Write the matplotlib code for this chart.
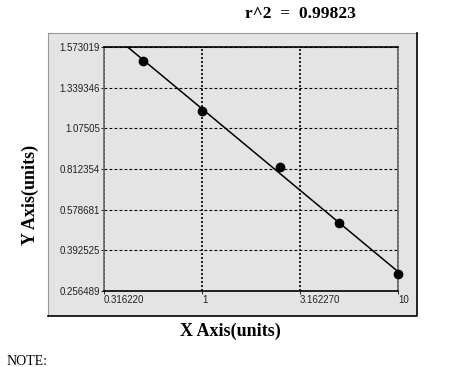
import numpy as np
import matplotlib
matplotlib.use("Agg")
import matplotlib.pyplot as plt
from matplotlib.patches import Rectangle
from matplotlib.lines import Line2D

# standard curve points
conc = [0.5, 1, 2.5, 5, 10]
od = [1.4924, 1.1895, 0.8234, 0.5163, 0.3134]

# y axis tick values (evenly spaced on the plot)
ytick_vals = [0.256489, 0.392525, 0.578681, 0.812354, 1.07505, 1.339346, 1.573019]
ytick_labels = ["0.256489", "0.392525", "0.578681", "0.812354", "1.07505", "1.339346", "1.573019"]
xtick_vals = [0.316228, 1, 3.16228, 10]
xtick_labels = ["0.316220", "1", "3.162270", "10"]
r2_text = "r^2  =  0.99823"

pos = np.arange(len(ytick_vals), dtype=float)


def interp_ext(v, xp, fp):
    v = np.asarray(v, dtype=float)
    out = np.interp(v, xp, fp)
    out = np.where(v < xp[0], fp[0] + (v - xp[0]) * (fp[1] - fp[0]) / (xp[1] - xp[0]), out)
    out = np.where(v > xp[-1], fp[-1] + (v - xp[-1]) * (fp[-1] - fp[-2]) / (xp[-1] - xp[-2]), out)
    return out


def fwd(v):
    return interp_ext(v, ytick_vals, pos)


def inv(p):
    return interp_ext(p, pos, ytick_vals)


W, H = 471, 367
fig = plt.figure(figsize=(W / 100, H / 100), dpi=100)

panel_col = "#e4e4e4"
# outer gray panel
l, r, t, b = 48 / W, 417 / W, 1 - 33 / H, 1 - 316 / H
fig.add_artist(Rectangle((l, b), r - l, t - b, transform=fig.transFigure,
                         facecolor=panel_col, edgecolor="none", zorder=0))
fig.add_artist(Line2D([l, l, r], [b, t, t], transform=fig.transFigure, color="#9a9a9a", lw=0.8))
fig.add_artist(Line2D([l, r, r], [b, b, t], transform=fig.transFigure, color="black", lw=1.2))

ax = fig.add_axes([104 / W, 1 - 291 / H, 294 / W, 244 / H])
ax.set_facecolor(panel_col)
ax.set_xscale("log")
ax.set_yscale("function", functions=(fwd, inv))
ax.set_xlim(10 ** -0.5, 10)
ax.set_ylim(ytick_vals[0], ytick_vals[-1])

ax.set_yticks(ytick_vals)
ax.set_yticklabels(ytick_labels)
ax.set_xticks(xtick_vals)
ax.set_xticklabels(xtick_labels)
ax.minorticks_off()
ax.tick_params(axis="both", length=2, width=0.6, pad=1, labelsize=7, labelcolor="#222222")
for lab in ax.get_xticklabels():
    lab.set_horizontalalignment("left")
    lab.set_fontfamily("Liberation Sans")
for lab in ax.get_yticklabels():
    lab.set_fontfamily("Liberation Sans")

ax.grid(axis="y", color="black", linestyle=(0, (2.5, 2)), lw=0.8)
ax.grid(axis="x", color="black", linestyle=(0, (1.2, 1.2)), lw=1.2)

for side in ["top", "bottom"]:
    ax.spines[side].set_color("black")
    ax.spines[side].set_linewidth(1.2)
for side in ["left", "right"]:
    ax.spines[side].set_color("#666666")
    ax.spines[side].set_linewidth(1.2)

# linear fit in plot coordinates
k, c = np.polyfit(np.log10(conc), fwd(od), 1)
lx = np.linspace(-0.5, 1, 50)
ax.plot(10 ** lx, inv(k * lx + c), color="black", lw=1.1, zorder=3)
ax.plot(conc, od, "o", color="black", ms=6, zorder=4, clip_on=False)

fig.text(30 / W, 1 - 195 / H, "Y Axis(units)", rotation=90, ha="center", va="center",
         family="Liberation Serif", weight="bold", fontsize=13)
fig.text(230 / W, 1 - 331 / H, "X Axis(units)", ha="center", va="center",
         family="Liberation Serif", weight="bold", fontsize=13)
fig.text(300 / W, 1 - 14 / H, r2_text, ha="center", va="center",
         family="Liberation Serif", weight="bold", fontsize=12.5)
fig.text(7 / W, 1 - 355 / H, "NOTE:", ha="left", va="top",
         family="Liberation Serif", fontsize=10)

fig.savefig("out.png", dpi=100)
